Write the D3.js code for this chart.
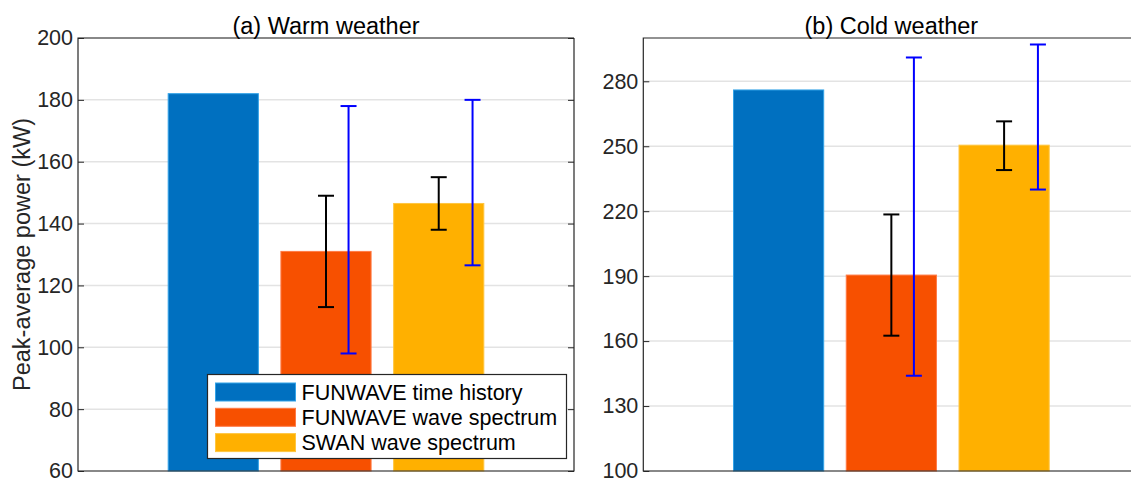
<!DOCTYPE html>
<html>
<head>
<meta charset="utf-8">
<script src="https://cdn.jsdelivr.net/npm/d3@7"></script>
<style>
  html, body { margin: 0; padding: 0; background: #ffffff; }
  svg { display: block; font-family: "Liberation Sans", Arial, Helvetica, sans-serif; }
</style>
</head>
<body>
<svg id="chart" width="1131" height="480"></svg>
<script>
// Series names (legend order) and bar positions on the category axis
const seriesNames = ["FUNWAVE time history", "FUNWAVE wave spectrum", "SWAN wave spectrum"];
const barPositions = [1, 2, 3];
const barColors = ["#0070c0", "#f75000", "#ffb000"];
const barEdges = ["#33a3e8", "#ff7a45", "#ffc640"];

// Peak-average power (kW)
const warmValues = [182, 131, 146.5];
const coldValues = [276, 190.5, 250.5];

// Error bars on the two spectrum-based bars (bars 2 and 3)
const specBarPos = [2, 3];
const envelopePos = [2.2, 3.3];
const warmSpecLow = [113, 138];
const warmSpecHigh = [149, 155];
const warmEnvLow = [98, 126.5];
const warmEnvHigh = [178, 180];
const coldSpecLow = [162.5, 239];
const coldSpecHigh = [218.5, 261.5];
const coldEnvLow = [144, 230];
const coldEnvHigh = [291, 297];

// Axis ranges and tick values
const warmDomain = [60, 200];
const coldDomain = [100, 300];
const warmTicks = [60, 80, 100, 120, 140, 160, 180, 200];
const coldTicks = [100, 130, 160, 190, 220, 250, 280];
const xDomain = [-0.2, 4.2];
const barWidth = 0.8;

const svg = d3.select("#chart");
const axisColor = "#262626";
const gridColor = "#e3e3e3";

function panel(opts) {
  const { left, right, top, bottom, yDomain, ticks, values, title,
          specLow, specHigh, envLow, envHigh, showLegend, showYLabel } = opts;
  const x = d3.scaleLinear().domain(xDomain).range([left, right]);
  const y = d3.scaleLinear().domain(yDomain).range([bottom, top]);
  const g = svg.append("g");

  // grid lines
  g.append("g").selectAll("line").data(ticks).join("line")
    .attr("x1", left).attr("x2", right)
    .attr("y1", d => y(d)).attr("y2", d => y(d))
    .attr("stroke", gridColor).attr("stroke-width", 1.5);

  // bars
  g.append("g").selectAll("rect").data(values).join("rect")
    .attr("x", (d, i) => x(barPositions[i] - barWidth / 2))
    .attr("width", x(barWidth) - x(0))
    .attr("y", d => y(d))
    .attr("height", d => y(yDomain[0]) - y(d))
    .attr("fill", (d, i) => barColors[i])
    .attr("stroke", (d, i) => barEdges[i])
    .attr("stroke-width", 1);

  // error bars
  function errorBars(pos, lo, hi, color) {
    const cap = 8;
    const eg = g.append("g").attr("stroke", color).attr("stroke-width", 2).attr("fill", "none");
    pos.forEach((p, i) => {
      const cx = x(p);
      eg.append("line").attr("x1", cx).attr("x2", cx).attr("y1", y(lo[i])).attr("y2", y(hi[i]));
      eg.append("line").attr("x1", cx - cap).attr("x2", cx + cap).attr("y1", y(lo[i])).attr("y2", y(lo[i]));
      eg.append("line").attr("x1", cx - cap).attr("x2", cx + cap).attr("y1", y(hi[i])).attr("y2", y(hi[i]));
    });
  }
  errorBars(specBarPos, specLow, specHigh, "#000000");
  errorBars(envelopePos, envLow, envHigh, "#0000ff");

  // axes box
  const yAxisL = d3.axisLeft(y).tickValues(ticks).tickSize(-6).tickPadding(5).tickFormat(d3.format("d"));
  const gl = g.append("g").attr("transform", `translate(${left},0)`).call(yAxisL);
  gl.select(".domain").remove();
  gl.selectAll(".tick line").attr("stroke", axisColor);
  gl.selectAll(".tick text").attr("fill", "#262626").style("font-size", "21.5px")
    .attr("font-family", "Liberation Sans, Arial, sans-serif");

  const yAxisR = d3.axisRight(y).tickValues(ticks).tickSize(-6).tickFormat("");
  const gr = g.append("g").attr("transform", `translate(${right},0)`).call(yAxisR);
  gr.select(".domain").remove();
  gr.selectAll(".tick line").attr("stroke", axisColor);

  g.append("path")
    .attr("d", `M${right},${top}H${left}V${bottom}H${right}V${top}`)
    .attr("fill", "none").attr("stroke", axisColor).attr("stroke-width", 1.2);

  // title
  g.append("text")
    .attr("x", (left + right) / 2).attr("y", top - 4)
    .attr("text-anchor", "middle").attr("fill", "#000")
    .style("font-size", "23.5px").text(title);

  if (showYLabel) {
    g.append("text")
      .attr("transform", `translate(30,${(top + bottom) / 2}) rotate(-90)`)
      .attr("text-anchor", "middle").attr("fill", "#262626")
      .style("font-size", "23.5px").text("Peak-average power (kW)");
  }

  if (showLegend) {
    const lx = 207.5, ly = 374.5, lw = 359, lh = 84, rowH = 25.3;
    const lg = g.append("g");
    lg.append("rect").attr("x", lx).attr("y", ly).attr("width", lw).attr("height", lh)
      .attr("fill", "#fff").attr("stroke", axisColor).attr("stroke-width", 1.2);
    const rows = lg.selectAll("g.row").data(seriesNames).join("g")
      .attr("transform", (d, i) => `translate(${lx + 8},${ly + 8.5 + i * rowH})`);
    rows.append("rect").attr("width", 80).attr("height", 18)
      .attr("fill", (d, i) => barColors[i]).attr("stroke", (d, i) => barEdges[i]).attr("stroke-width", 1);
    rows.append("text").attr("x", 86).attr("y", 16.5).attr("fill", "#000")
      .style("font-size", "21.5px").text(d => d);
  }
}

panel({
  left: 78, right: 574, top: 38, bottom: 471,
  yDomain: warmDomain, ticks: warmTicks, values: warmValues,
  title: "(a) Warm weather",
  specLow: warmSpecLow, specHigh: warmSpecHigh, envLow: warmEnvLow, envHigh: warmEnvHigh,
  showLegend: true, showYLabel: true
});

panel({
  left: 643.3, right: 1139.4, top: 38, bottom: 471,
  yDomain: coldDomain, ticks: coldTicks, values: coldValues,
  title: "(b) Cold weather",
  specLow: coldSpecLow, specHigh: coldSpecHigh, envLow: coldEnvLow, envHigh: coldEnvHigh,
  showLegend: false, showYLabel: false
});
</script>
</body>
</html>
